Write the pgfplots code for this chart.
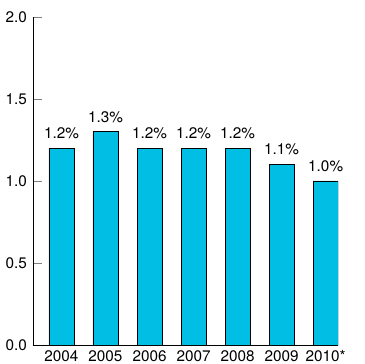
\documentclass[border=0pt]{standalone}
\usepackage{fontspec}
\setmainfont{TeX Gyre Heros}
\usepackage{pgfplots}
\pgfplotsset{compat=1.18}
\definecolor{barc}{RGB}{0,190,228}
\begin{document}
\begin{tikzpicture}
\begin{axis}[
  scale only axis, width=305pt, height=328pt,
  xmin=-0.646, xmax=6.28, ymin=0, ymax=2,
  axis x line*=bottom, axis y line*=left,
  axis line style={line width=0.8pt},
  ybar, bar width=25pt,
  ytick={0,0.5,1,1.5,2},
  yticklabel style={/pgf/number format/fixed,/pgf/number format/fixed zerofill,/pgf/number format/precision=1, inner sep=0pt, xshift=-6pt},
  /pgf/number format/assume math mode=true,
  xtick={0,1,2,3,4,5,6},
  xticklabels={2004,2005,2006,2007,2008,2009,2010*},
  xtick style={draw=none},
  xticklabel style={inner sep=0pt, anchor=north, yshift=-5pt},
  ytick style={line width=0.8pt},
  tick align=inside, major tick length=9pt,
  ticklabel style={font=\fontsize{15.3}{17}\selectfont},
  nodes near coords={\pgfmathprintnumber[fixed,fixed zerofill,precision=1]{\pgfplotspointmeta}\%},
  every node near coord/.append style={font=\fontsize{15.3}{17}\selectfont, inner sep=0pt, anchor=south, yshift=9pt},
]
\addplot[fill=barc, draw=black, line width=0.8pt] coordinates {(0,1.2) (1,1.3) (2,1.2) (3,1.2) (4,1.2) (5,1.1) (6,1.0)};
\end{axis}
\path (-33pt,-19pt) rectangle (331pt,345pt);
\end{tikzpicture}
\end{document}
